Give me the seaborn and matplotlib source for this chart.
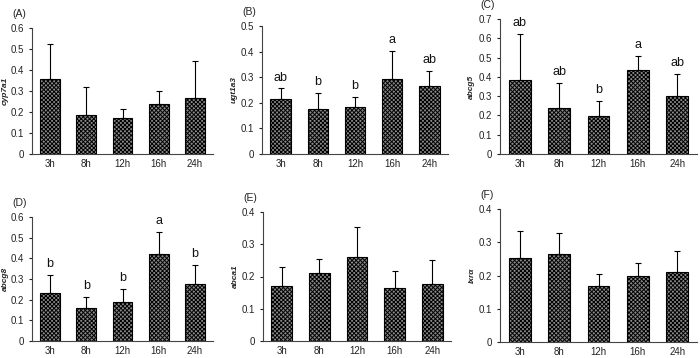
#!/usr/bin/env python3
"""Six-panel bar chart: relative expression of bile-acid / cholesterol genes over time."""
import matplotlib
matplotlib.use("Agg")
import matplotlib.pyplot as plt
import numpy as np
import pandas as pd
import seaborn as sns

TIMES = ["3h", "8h", "12h", "16h", "24h"]

# gene panels: mean and upper SD
CYP7A1 = [0.358, 0.186, 0.170, 0.236, 0.268]
CYP7A1_ERR = [0.167, 0.131, 0.043, 0.062, 0.175]
UGT1A3 = [0.214, 0.176, 0.185, 0.294, 0.266]
UGT1A3_ERR = [0.042, 0.061, 0.039, 0.110, 0.057]
ABCG5 = [0.384, 0.238, 0.198, 0.434, 0.303]
ABCG5_ERR = [0.237, 0.129, 0.078, 0.075, 0.112]
ABCG8 = [0.233, 0.162, 0.188, 0.423, 0.278]
ABCG8_ERR = [0.085, 0.050, 0.066, 0.103, 0.092]
ABCA1 = [0.171, 0.212, 0.262, 0.163, 0.178]
ABCA1_ERR = [0.058, 0.041, 0.090, 0.054, 0.073]
LXRA = [0.252, 0.264, 0.169, 0.200, 0.212]
LXRA_ERR = [0.081, 0.064, 0.035, 0.039, 0.061]

LETTERS_B = ["ab", "b", "b", "a", "ab"]
LETTERS_C = ["ab", "ab", "b", "a", "ab"]
LETTERS_D = ["b", "b", "b", "a", "b"]

# tag, gene, values, errors, letters, ymax, axes box (px: left, right, top, bottom),
# ylabel right edge px
PANELS = [
    ("(A)", "cyp7a1", CYP7A1, CYP7A1_ERR, None, 0.6, [32, 213, 28, 154], 9),
    ("(B)", "ugt1a3", UGT1A3, UGT1A3_ERR, LETTERS_B, 0.5, [262, 448, 26, 154], 238),
    ("(C)", "abcg5", ABCG5, ABCG5_ERR, LETTERS_C, 0.7, [500, 697, 19, 154], 475),
    ("(D)", "abcg8", ABCG8, ABCG8_ERR, LETTERS_D, 0.6, [32, 213, 217, 341], 9),
    ("(E)", "abca1", ABCA1, ABCA1_ERR, None, 0.4, [263, 451, 212, 341], 239),
    ("(F)", "lxrα", LXRA, LXRA_ERR, None, 0.4, [500, 697, 209, 342], 476),
]

W, H = 700, 358

sns.set_theme(style="white")
plt.rcParams.update({
    "font.family": ["Liberation Sans", "DejaVu Sans"],
    "hatch.linewidth": 0.7,
    "axes.edgecolor": "#444444",
})

fig = plt.figure(figsize=(W / 100, H / 100), dpi=100)

for tag, gene, vals, errs, letters, ymax, (l, r, t, b), ylx in PANELS:
    ax = fig.add_axes([l / W, 1 - b / H, (r - l) / W, (b - t) / H])
    df = pd.DataFrame({"time": TIMES, "value": vals})
    sns.barplot(data=df, x="time", y="value", order=TIMES, color="#8a8a8a",
                width=0.55, edgecolor="black", linewidth=0.8, saturation=1,
                errorbar=None, ax=ax)
    for p in ax.patches:
        p.set_hatch("xxxxxxxx")
    x = np.arange(len(TIMES))
    ax.errorbar(x, vals, yerr=[np.zeros(len(vals)), errs], fmt="none",
                ecolor="black", elinewidth=0.8, capsize=2, capthick=0.8)
    if letters:
        for xi, v, e, s in zip(x, vals, errs, letters):
            ax.annotate(s, (xi, v + e), xytext=(0, 3.5), textcoords="offset points",
                        ha="center", va="bottom", fontsize=9, color="#111111")
    yt = np.round(np.arange(0, ymax + 1e-9, 0.1), 1)
    ax.set_xlim(-0.5, 4.5)
    ax.set_ylim(0, ymax)
    ax.set_yticks(yt)
    ax.set_yticklabels([f"{v:g}" for v in yt])
    ax.set_xticks(x)
    ax.set_xticks(np.arange(0.5, 5, 1.0), minor=True)
    ax.tick_params(axis="x", which="major", length=0, labelsize=7, pad=3.5, colors="#222222")
    ax.tick_params(axis="x", which="minor", length=3, direction="in", width=0.8, color="#444444")
    ax.tick_params(axis="y", length=2.5, direction="out", width=0.8, labelsize=7,
                   left=True, colors="#222222")
    ax.set_xlabel("")
    ax.set_ylabel(gene, fontsize=6, fontweight="bold", fontstyle="italic")
    ax.yaxis.set_label_coords((ylx - l) / (r - l), 0.5)
    sns.despine(ax=ax)
    for s in ["left", "bottom"]:
        ax.spines[s].set_linewidth(0.8)
    fig.text((l - 20) / W, 1 - (t - 14) / H, tag, fontsize=7.5, ha="left", va="center",
             color="#222222")

fig.savefig("out.png", dpi=100)
